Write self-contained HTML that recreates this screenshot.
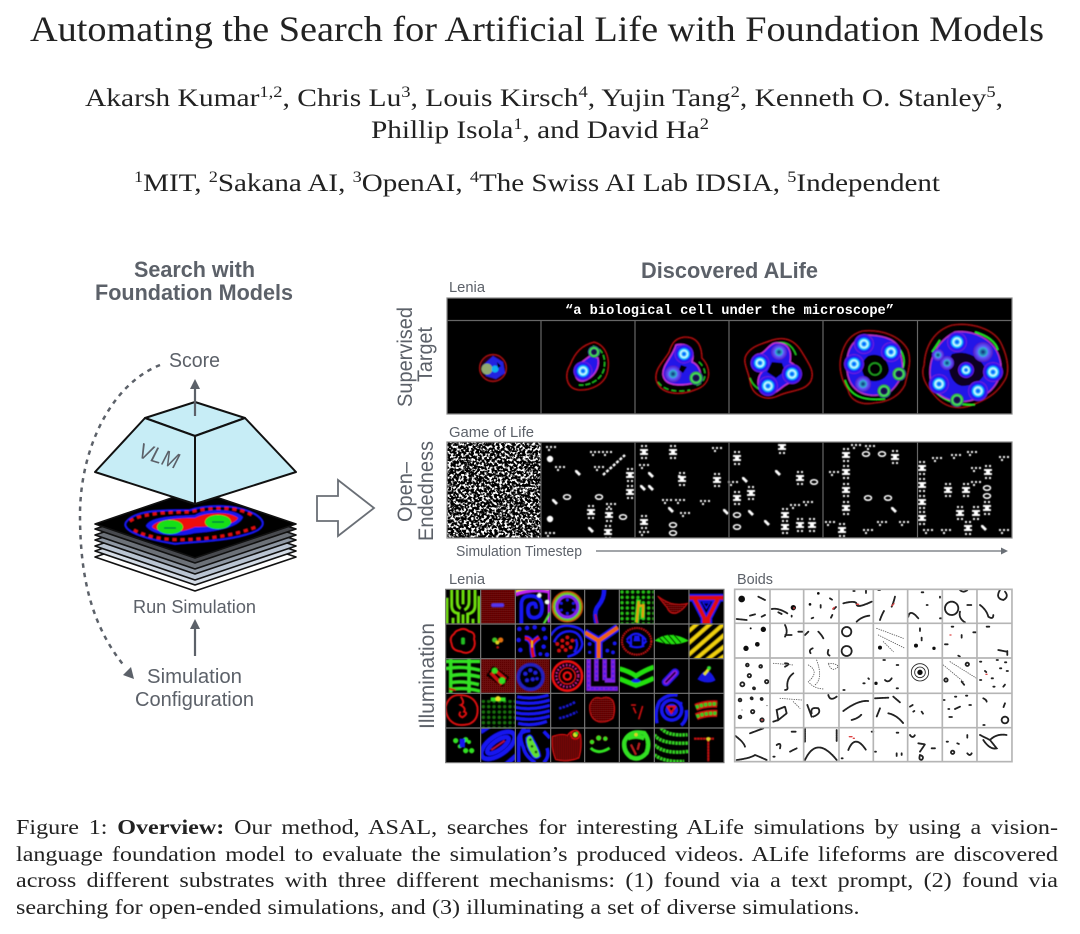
<!DOCTYPE html>
<html><head><meta charset="utf-8"><style>
html,body{margin:0;padding:0;background:#fff;width:1080px;height:934px;overflow:hidden}
#c{position:absolute;left:16px;top:815px;width:890.6px;font:20.6px/26.6px "Liberation Serif",serif;color:#222;transform:scaleX(1.17);transform-origin:0 0}
#c div{text-align:justify;text-align-last:justify;white-space:nowrap}
#c div:last-child{width:721px}
svg text{font-family:"Liberation Sans",sans-serif}
.s{font-family:"Liberation Serif",serif!important;fill:#222}
.l{fill:#5c6169}
.bt{font-weight:bold;font-size:22px;fill:#5c6169}
.w{fill:#fff}
.b path,.b circle,.b ellipse{fill:none;stroke:#222;stroke-width:5.5;stroke-linecap:round;stroke-dasharray:5 2}
.b .f{fill:#111;stroke:none}
.b .t{stroke-width:2.5;stroke-dasharray:2 5;stroke:#555}
.b .r{stroke:#d44;stroke-dasharray:none;stroke-width:4}
</style></head><body>
<svg width="1080" height="934" viewBox="0 0 1080 934" style="position:absolute;left:0;top:0">
<defs>
<filter id="bl" x="-5%" y="-5%" width="110%" height="110%"><feGaussianBlur stdDeviation="0.55"/></filter>
<filter id="bl2" x="-5%" y="-5%" width="110%" height="110%"><feGaussianBlur stdDeviation="1.5"/></filter>
<filter id="noise" x="0" y="0" width="100%" height="100%"><feTurbulence type="fractalNoise" baseFrequency="0.39" numOctaves="2" seed="7"/><feColorMatrix values="0 0 0 0 1 0 0 0 0 1 0 0 0 0 1 7 0 0 0 -3.35"/></filter>
<pattern id="pr" width="6" height="6" patternUnits="userSpaceOnUse"><rect width="6" height="6" fill="#3c0303"/><circle cx="3" cy="3" r="2" fill="#b01010"/></pattern>
<pattern id="pg" width="16" height="16" patternUnits="userSpaceOnUse"><circle cx="8" cy="8" r="5.5" fill="#26c016"/></pattern>
<radialGradient id="n"><stop offset="0" stop-color="#1030ff"/><stop offset=".2" stop-color="#10a8ff"/><stop offset=".36" stop-color="#eaffff"/><stop offset=".5" stop-color="#20d8ff"/><stop offset=".7" stop-color="#1414f8"/><stop offset=".9" stop-color="#4a18e8"/><stop offset="1" stop-color="#8020d0"/></radialGradient>
<radialGradient id="m"><stop offset="0" stop-color="#102070"/><stop offset=".4" stop-color="#30b0d0"/><stop offset=".55" stop-color="#6060ff"/><stop offset="1" stop-color="#5018c8"/></radialGradient>
<radialGradient id="g"><stop offset="0" stop-color="#100830"/><stop offset=".45" stop-color="#201060"/><stop offset=".62" stop-color="#50f060"/><stop offset=".8" stop-color="#30c040"/><stop offset="1" stop-color="#3010a0"/></radialGradient>
<g id="v"><path d="M-3-7h2v2h-2zM1-7h2v2h-2zM-4-3h8v2h-8zM-2-1h4v2h-4zM-4 1h8v2h-8zM-3 5h2v2h-2zM1 5h2v2h-2z" fill="#fff"/></g>
<g id="o"><ellipse rx="3.5" ry="2.2" fill="none" stroke="#fff" stroke-width="1.5"/></g>
<g id="d"><path d="M-5-1h2v2h-2zM-1-1h2v2h-2zM3-1h2v2h-2zM-3 2h2v2h-2z" fill="#fff"/></g>
<g id="q"><path d="M-3-3l2 0 2 2 2 2-2 2-2-2-2-2z" fill="#fff"/></g>
</defs>

<!-- Header -->
<text class="s" x="30" y="41" font-size="36" textLength="1014" lengthAdjust="spacingAndGlyphs">Automating the Search for Artificial Life with Foundation Models</text>
<text class="s" x="85" y="106" font-size="25.5" textLength="918" lengthAdjust="spacingAndGlyphs">Akarsh Kumar<tspan font-size="16" dy="-9">1,2</tspan><tspan dy="9">, Chris Lu</tspan><tspan font-size="16" dy="-9">3</tspan><tspan dy="9">, Louis Kirsch</tspan><tspan font-size="16" dy="-9">4</tspan><tspan dy="9">, Yujin Tang</tspan><tspan font-size="16" dy="-9">2</tspan><tspan dy="9">, Kenneth O. Stanley</tspan><tspan font-size="16" dy="-9">5</tspan><tspan dy="9">,</tspan></text>
<text class="s" x="371" y="138" font-size="25.5" textLength="338" lengthAdjust="spacingAndGlyphs">Phillip Isola<tspan font-size="16" dy="-9">1</tspan><tspan dy="9">, and David Ha</tspan><tspan font-size="16" dy="-9">2</tspan></text>
<text class="s" x="134" y="191" font-size="25.5" textLength="806" lengthAdjust="spacingAndGlyphs"><tspan font-size="16" dy="-9">1</tspan><tspan dy="9">MIT, </tspan><tspan font-size="16" dy="-9">2</tspan><tspan dy="9">Sakana AI, </tspan><tspan font-size="16" dy="-9">3</tspan><tspan dy="9">OpenAI, </tspan><tspan font-size="16" dy="-9">4</tspan><tspan dy="9">The Swiss AI Lab IDSIA, </tspan><tspan font-size="16" dy="-9">5</tspan><tspan dy="9">Independent</tspan></text>

<!-- Left diagram -->
<text class="bt" x="134" y="277" textLength="121" lengthAdjust="spacingAndGlyphs">Search with</text>
<text class="bt" x="95" y="300" textLength="198" lengthAdjust="spacingAndGlyphs">Foundation Models</text>
<text class="l" x="169" y="367" font-size="20" textLength="51" lengthAdjust="spacingAndGlyphs">Score</text>
<text class="l" x="133" y="613" font-size="18" textLength="123" lengthAdjust="spacingAndGlyphs">Run Simulation</text>
<text class="l" x="147" y="683" font-size="20" textLength="95" lengthAdjust="spacingAndGlyphs">Simulation</text>
<text class="l" x="135" y="706" font-size="20" textLength="119" lengthAdjust="spacingAndGlyphs">Configuration</text>

<path d="M160 365C110 385 80 450 80 515C80 585 95 630 125 667" fill="none" stroke="#5c6169" stroke-width="2.5" stroke-dasharray="4.5 5"/>
<path d="M134 679L123 675L131 667Z" fill="#5c6169"/>
<path d="M195 656V628" stroke="#5c6169" stroke-width="2.2"/><path d="M195 619L190 629H200Z" fill="#5c6169"/>

<!-- stack -->
<g stroke="#111" stroke-width="1.6" stroke-linejoin="round">
<path d="M195 523L296 557L195 591L95 557Z" fill="#fff"/>
<path d="M195 517L296 551L195 585L95 551Z" fill="#d4dce6"/>
<path d="M195 512L296 546L195 580L95 546Z" fill="#b9c4d2"/>
<path d="M195 506L296 540L195 574L95 540Z" fill="#8f98a4"/>
<path d="M195 501L296 535L195 569L95 535Z" fill="#6c7178"/>
<path d="M195 495L296 529L195 563L95 529Z" fill="#47494e"/>
<path d="M195 490L296 524L195 558L95 524Z" fill="#000"/>
</g>
<g filter="url(#bl)">
<path d="M126 522C135 510 160 510 190 510C205 505 235 503 255 514C268 522 265 530 245 535C225 541 195 542 175 544C150 540 120 532 126 522Z" fill="#000" stroke="#1414ee" stroke-width="2"/>
<path d="M130 521C140 514 165 512 190 512C210 507 240 506 253 516" fill="none" stroke="#e01010" stroke-width="3" stroke-dasharray="4 4"/>
<path d="M134 530C150 539 175 541 195 539C220 538 245 532 258 526" fill="none" stroke="#e01010" stroke-width="3" stroke-dasharray="4 4"/>
<path d="M146 526C150 515 185 516 195 515C205 508 235 508 243 517C240 527 215 532 195 533C175 538 152 535 146 526Z" fill="#1414ee"/>
<path d="M152 527C155 519 180 518 195 518C205 512 230 511 238 518C235 525 215 527 195 527C180 534 158 533 152 527Z" fill="#ee1010"/>
<ellipse cx="170" cy="527" rx="13" ry="7" fill="#12e012"/><ellipse cx="218" cy="522" rx="13" ry="7" fill="#12e012"/>
<path d="M164 528h12M212 522h12" stroke="#064" stroke-width="1.3"/>
</g>
<!-- pyramid -->
<g stroke="#111" stroke-width="2" stroke-linejoin="round" fill="#c7edf6">
<path d="M145 418L195 402L245 418L195 436Z"/>
<path d="M145 418L195 436V504L95 472Z"/>
<path d="M245 418L195 436V504L296 472Z"/>
</g>
<path d="M195 416V388" stroke="#5c6169" stroke-width="2.2"/><path d="M195 379L190 389H200Z" fill="#5c6169"/>
<text class="l" font-size="22" font-style="italic" transform="translate(137 457) rotate(17)" textLength="41" lengthAdjust="spacingAndGlyphs">VLM</text>
<path d="M317 496H338V480L374 508L338 536V521H317Z" fill="#fff" stroke="#6a6f76" stroke-width="1.8"/>

<!-- Right titles -->
<text class="bt" x="641" y="278" textLength="177" lengthAdjust="spacingAndGlyphs">Discovered ALife</text>
<text class="l" x="449" y="292" font-size="15" textLength="36" lengthAdjust="spacingAndGlyphs">Lenia</text>
<text class="l" x="449" y="437" font-size="15" textLength="85" lengthAdjust="spacingAndGlyphs">Game of Life</text>
<text class="l" x="456" y="556" font-size="15" textLength="126" lengthAdjust="spacingAndGlyphs">Simulation Timestep</text>
<text class="l" x="449" y="584" font-size="15" textLength="36" lengthAdjust="spacingAndGlyphs">Lenia</text>
<text class="l" x="737" y="584" font-size="15" textLength="36" lengthAdjust="spacingAndGlyphs">Boids</text>
<path d="M596 551H1003" stroke="#6a6f76" stroke-width="1.3"/><path d="M1008 551L1001 547.5V554.5Z" fill="#6a6f76"/>
<g font-size="21" class="l">
<text transform="translate(412 407) rotate(-90)" textLength="100" lengthAdjust="spacingAndGlyphs">Supervised</text>
<text transform="translate(432 382) rotate(-90)" textLength="55" lengthAdjust="spacingAndGlyphs">Target</text>
<text transform="translate(412 522) rotate(-90)" textLength="60" lengthAdjust="spacingAndGlyphs">Open–</text>
<text transform="translate(433 541) rotate(-90)" textLength="100" lengthAdjust="spacingAndGlyphs">Endedness</text>
<text transform="translate(434 729) rotate(-90)" textLength="106" lengthAdjust="spacingAndGlyphs">Illumination</text>
</g>

<!-- Supervised panel -->
<rect x="447" y="298" width="565" height="116" fill="#000"/>
<text x="565" y="314" font-size="14" class="w" style="font-family:'Liberation Mono',monospace;font-weight:bold" textLength="329" lengthAdjust="spacingAndGlyphs">“a biological cell under the microscope”</text>
<g filter="url(#bl)">
<!-- 1 -->
<circle cx="493" cy="368" r="13.500" fill="#200010" stroke="#a01010" stroke-width="1.400"/>
<path d="M493 356L503 362L505 373L496 379L486 376L482 366Z" fill="#2020e0"/>
<circle cx="487" cy="369" r="5.500" fill="#90a870"/><circle cx="495" cy="369" r="3.500" fill="#10b0f0"/><path d="M497 362l4 4-3 2z" fill="#000"/>
<!-- 2 -->
<path d="M594 342C606 345 610 358 608 370C606 385 590 391 578 390C566 388 564 375 570 365C575 352 582 345 594 342Z" fill="#000" stroke="#a00808" stroke-width="1.500"/>
<path d="M593 346C603 349 606 358 604 369C601 381 588 386 579 385" fill="none" stroke="#20c020" stroke-width="1.300" stroke-dasharray="5 2"/>
<path d="M590 356L598 358C600 368 594 378 583 381C574 382 574 370 578 365Z" fill="#2414e8" stroke="#c030d0" stroke-width="1.500"/>
<circle cx="583" cy="371" r="9.500" fill="url(#n)"/><circle cx="594" cy="352" r="6" fill="url(#g)"/>
<!-- 3 -->
<path d="M684 337C700 336 702 350 702 358C712 368 712 385 695 390C680 396 660 395 656 380C654 368 665 360 669 352C672 342 676 338 684 337Z" fill="#000" stroke="#a00808" stroke-width="1.500"/>
<path d="M699 362C708 370 707 383 695 386M658 382C665 392 680 392 690 390" fill="none" stroke="#20c020" stroke-width="1.200" stroke-dasharray="5 3"/>
<path d="M676 345C690 342 695 352 692 362C702 366 703 380 695 383C685 385 665 388 663 375C662 365 672 358 676 345Z" fill="#2414e8" stroke="#c030d0" stroke-width="1.500"/>
<circle cx="684" cy="354" r="9.500" fill="url(#n)"/><circle cx="673" cy="374" r="8.500" fill="url(#m)"/><circle cx="696" cy="378" r="7" fill="url(#g)"/>
<path d="M681 365l6 2-4 6-4-3z" fill="#000"/>
<!-- 4 -->
<path d="M772 340C785 336 795 340 802 352C810 365 815 372 811 381C805 392 790 390 778 396C765 402 752 395 750 382C748 370 742 362 746 355C752 345 762 344 772 340Z" fill="#000" stroke="#a00808" stroke-width="1.500"/>
<path d="M772 344C785 340 792 344 796 355M750 378C755 392 768 392 775 392" fill="none" stroke="#20c020" stroke-width="1.400"/>
<path d="M775 343C788 342 792 350 790 362C802 368 802 382 792 382C782 384 778 395 768 393C756 392 756 378 762 372C750 370 750 354 760 354C766 352 768 345 775 343Z" fill="#2414e8" stroke="#c030d0" stroke-width="1.500"/>
<path d="M772 362l10 1 3 8-9 7-9-6z" fill="#000"/>
<circle cx="760" cy="363" r="9.500" fill="url(#n)"/><circle cx="779" cy="352" r="8" fill="url(#m)"/><circle cx="792" cy="374" r="10" fill="url(#n)"/><circle cx="768" cy="386" r="10" fill="url(#n)"/>
<!-- 5 -->
<path d="M862 331C880 329 900 335 908 350C912 362 908 372 905 385C900 395 890 402 875 403C860 406 850 400 848 390C840 378 838 365 842 352C846 340 852 334 862 331Z" fill="#000" stroke="#900808" stroke-width="1.600"/>
<path d="M845 380C850 396 862 401 885 399M895 345C905 352 905 362 903 368" fill="none" stroke="#20e020" stroke-width="1.500"/>
<path d="M864 335C880 335 898 338 900 352C904 366 905 378 890 392C875 398 860 396 852 385C845 375 845 355 852 345C856 340 860 336 864 335Z" fill="#2414e8" stroke="#b030c0" stroke-width="1.500"/>
<path d="M868 356C878 352 888 358 889 370C888 378 878 384 868 380C860 374 860 362 868 356Z" fill="#000"/>
<circle cx="864" cy="344" r="10" fill="url(#n)"/><circle cx="891" cy="352" r="10" fill="url(#n)"/><circle cx="854" cy="364" r="10" fill="url(#n)"/><circle cx="899" cy="374" r="7" fill="url(#g)"/><circle cx="863" cy="384" r="8" fill="url(#m)"/><circle cx="884" cy="391" r="7" fill="url(#g)"/><circle cx="875" cy="369" r="6" fill="none" stroke="#20a020" stroke-width="1.500"/>
<!-- 6 -->
<path d="M952 325C970 322 995 328 1002 345C1008 358 1010 372 1005 380C998 392 990 398 975 404C960 411 945 408 935 396C925 385 920 375 924 365C925 345 935 330 952 325Z" fill="#000" stroke="#900808" stroke-width="1.600"/>
<path d="M932 352L940 340M975 332C985 335 995 340 998 350M930 385C940 400 955 405 975 405" fill="none" stroke="#20e020" stroke-width="1.800"/>
<path d="M955 332C972 330 995 338 1000 360C1004 375 995 392 978 398C960 406 942 400 933 388C926 372 930 345 955 332Z" fill="#2414e8" stroke="#b030c0" stroke-width="1.500"/>
<path d="M952 354C965 350 978 356 984 366C988 378 975 386 962 386C950 384 945 365 952 354Z" fill="#0a0420"/>
<circle cx="957" cy="342" r="10" fill="url(#n)"/><circle cx="983" cy="352" r="10" fill="url(#m)"/><circle cx="993" cy="372" r="10" fill="url(#n)"/><circle cx="978" cy="391" r="10" fill="url(#n)"/><circle cx="957" cy="400" r="7" fill="url(#g)"/><circle cx="939" cy="384" r="10" fill="url(#n)"/><circle cx="947" cy="363" r="7" fill="url(#m)"/><circle cx="938" cy="355" r="6" fill="url(#m)"/><circle cx="966" cy="370" r="8" fill="url(#n)"/>
</g>
<g fill="none" stroke="#666" stroke-width="1.200"><rect x="447" y="298" width="565" height="116" stroke="#888"/><path d="M447 320.500H1012M541 320V414M635 320V414M729 320V414M823 320V414M917.500 320V414"/></g>

<!-- Game of life -->
<rect x="447" y="442" width="565" height="96" fill="#000"/>
<rect x="447" y="442" width="94" height="96" filter="url(#noise)"/>
<g filter="url(#bl)">
<circle cx="550" cy="459" r="3.200" class="w"/><circle cx="550" cy="519" r="3.200" class="w"/>
<path d="M603 475L625 455" stroke="#fff" stroke-width="2.500" stroke-dasharray="3 1.500"/>
<use href="#v" x="591" y="512"/><use href="#v" x="609" y="515"/><use href="#o" x="623" y="517"/><use href="#d" x="599" y="467"/><use href="#d" x="595" y="452"/><use href="#d" x="607" y="452"/><use href="#o" x="567" y="497"/><use href="#q" x="555" y="502"/><use href="#o" x="599" y="497"/><use href="#d" x="611" y="504"/><use href="#v" x="630" y="475"/><use href="#v" x="630" y="492"/><use href="#q" x="591" y="530"/><use href="#v" x="608" y="532"/><use href="#d" x="550" y="533"/><use href="#d" x="551" y="447"/><use href="#d" x="560" y="467"/><use href="#q" x="578" y="473"/>
<use href="#v" x="644" y="452"/><use href="#d" x="644" y="465"/><use href="#v" x="673" y="452"/><use href="#d" x="717" y="448"/><use href="#q" x="681" y="478"/><use href="#q" x="651" y="475"/><use href="#v" x="717" y="480"/><use href="#q" x="643" y="488"/><use href="#q" x="651" y="488"/><use href="#d" x="667" y="500"/><use href="#d" x="680" y="500"/><use href="#d" x="685" y="513"/><use href="#o" x="673" y="525"/><use href="#o" x="673" y="533"/><use href="#v" x="644" y="522"/><use href="#d" x="644" y="532"/><use href="#d" x="705" y="501"/><use href="#q" x="726" y="512"/><use href="#q" x="671" y="510"/><use href="#v" x="682" y="479"/>
<use href="#v" x="737" y="458"/><use href="#d" x="733" y="482"/><use href="#v" x="737" y="498"/><use href="#v" x="751" y="493"/><use href="#o" x="737" y="515"/><use href="#o" x="737" y="527"/><use href="#q" x="751" y="513"/><use href="#v" x="782" y="447"/><use href="#q" x="778" y="473"/><use href="#v" x="800" y="478"/><use href="#o" x="814" y="482"/><use href="#v" x="785" y="515"/><use href="#v" x="785" y="527"/><use href="#v" x="800" y="525"/><use href="#v" x="812" y="525"/><use href="#d" x="808" y="502"/><use href="#q" x="767" y="523"/><use href="#q" x="745" y="480"/><use href="#d" x="795" y="505"/>
<use href="#v" x="846" y="455"/><use href="#v" x="846" y="472"/><use href="#v" x="846" y="490"/><use href="#v" x="846" y="508"/><use href="#d" x="856" y="445"/><use href="#o" x="866" y="454"/><use href="#o" x="882" y="454"/><use href="#v" x="895" y="457"/><use href="#d" x="834" y="472"/><use href="#o" x="868" y="498"/><use href="#o" x="888" y="498"/><use href="#q" x="894" y="510"/><use href="#v" x="842" y="530"/><use href="#d" x="830" y="522"/><use href="#d" x="882" y="522"/><use href="#d" x="904" y="522"/><use href="#d" x="868" y="530"/><use href="#d" x="870" y="446"/>
<use href="#v" x="922" y="468"/><use href="#v" x="922" y="485"/><use href="#v" x="922" y="502"/><use href="#v" x="922" y="518"/><use href="#v" x="988" y="472"/><use href="#o" x="987" y="488"/><use href="#o" x="987" y="496"/><use href="#v" x="987" y="508"/><use href="#v" x="948" y="490"/><use href="#v" x="966" y="490"/><use href="#d" x="956" y="455"/><use href="#d" x="972" y="452"/><use href="#d" x="1004" y="457"/><use href="#d" x="976" y="468"/><use href="#d" x="976" y="482"/><use href="#v" x="960" y="513"/><use href="#v" x="976" y="513"/><use href="#v" x="968" y="528"/><use href="#q" x="984" y="528"/><use href="#d" x="928" y="530"/><use href="#d" x="946" y="530"/><use href="#d" x="1004" y="530"/><use href="#d" x="937" y="458"/>
</g>
<g fill="none" stroke="#666" stroke-width="1.200"><rect x="447" y="442" width="565" height="96" stroke="#888"/><path d="M541 442V538M635 442V538M729 442V538M823 442V538M917.500 442V538"/></g>

<!-- Lenia grid -->
<g transform="translate(440 585) scale(.3333)">
<rect x="17" y="13" width="835" height="520" fill="#000"/>
<g filter="url(#bl2)">
<!-- Row 1 -->
<svg x="17" y="13" width="104" height="104" viewBox="0 0 104 104"><g fill="none" stroke="#6fe010" stroke-width="9"><path d="M52 0V45M35 0V38Q35 52 45 58M70 0V38Q70 55 56 62M18 0V48Q18 70 38 72V104M88 0V48Q88 70 66 74V104M4 25V104M100 20V104M52 75V104M22 85V104M82 88V104"/></g></svg>
<svg x="122" y="13" width="104" height="104" viewBox="0 0 104 104"><rect width="104" height="104" fill="url(#pr)"/><rect x="32" y="42" width="38" height="11" rx="5" fill="#5535f0"/></svg>
<svg x="226" y="13" width="104" height="104" viewBox="0 0 104 104"><g fill="none"><path d="M0 15Q50 -5 104 6L104 100" stroke="#c020f0" stroke-width="14"/><path d="M0 6Q50 -10 100 0" stroke="#e8e020" stroke-width="7"/><path d="M85 104L104 70" stroke="#50e030" stroke-width="7"/><path d="M18 104V45Q18 18 48 20Q80 22 80 55Q80 85 55 85Q38 85 38 62Q38 42 55 42Q62 42 62 58" stroke="#1414f0" stroke-width="12"/></g><circle cx="72" cy="18" r="7" fill="#f0fff0"/><circle cx="95" cy="38" r="7" fill="#f0fff0"/></svg>
<svg x="332" y="13" width="104" height="104" viewBox="0 0 104 104"><circle cx="50" cy="52" r="45" fill="none" stroke="#d05010" stroke-width="5"/><circle cx="50" cy="52" r="39" fill="none" stroke="#70d020" stroke-width="7"/><circle cx="50" cy="52" r="31" fill="none" stroke="#8020f0" stroke-width="10"/><g fill="#1414e8"><circle cx="50" cy="32" r="5"/><circle cx="68" cy="42" r="5"/><circle cx="68" cy="62" r="5"/><circle cx="50" cy="72" r="5"/><circle cx="32" cy="62" r="5"/><circle cx="32" cy="42" r="5"/></g></svg>
<svg x="434" y="13" width="104" height="104" viewBox="0 0 104 104"><path d="M58 0Q60 25 42 48Q25 65 36 104" fill="none" stroke="#1414f0" stroke-width="14"/><path d="M32 75L38 104" stroke="#c01040" stroke-width="5"/></svg>
<svg x="538" y="13" width="104" height="104" viewBox="0 0 104 104"><rect width="104" height="104" fill="url(#pg)"/><path d="M58 30L52 100M70 45L70 90" stroke="#20d020" stroke-width="15"/><path d="M58 35L52 100M55 50L72 48L70 85" fill="none" stroke="#e8a010" stroke-width="7"/></svg>
<svg x="643" y="13" width="104" height="104" viewBox="0 0 104 104"><path d="M10 20Q30 35 50 42Q75 48 100 42Q85 65 65 72Q45 75 38 55Q25 40 10 20Z" fill="url(#pr)" stroke="#d01010" stroke-width="3"/></svg>
<svg x="747" y="13" width="104" height="104" viewBox="0 0 104 104"><g fill="none"><path d="M0 25H104M18 30L46 85V104M86 30L58 85V104" stroke="#1414f0" stroke-width="24"/><path d="M0 25H104M18 30L46 85V104M86 30L58 85V104" stroke="#e01010" stroke-width="12"/></g><path d="M38 38H66L52 62Z" fill="#1414f0"/><path d="M45 42H59L52 52Z" fill="#000"/></svg>
<!-- Row 2 -->
<svg x="17" y="117" width="104" height="104" viewBox="0 0 104 104"><path d="M40 18Q55 10 70 22Q90 25 85 45Q92 65 78 80Q62 92 45 82Q20 80 18 60Q10 40 25 30Q30 20 40 18Z" fill="none" stroke="#e01010" stroke-width="6"/><rect x="46" y="40" width="12" height="22" rx="5" fill="#20c020"/></svg>
<svg x="122" y="117" width="104" height="104" viewBox="0 0 104 104"><circle cx="42" cy="48" r="8" fill="#40c020"/><circle cx="60" cy="48" r="8" fill="#e07010"/><circle cx="50" cy="56" r="6" fill="#e0d020"/><circle cx="51" cy="70" r="4" fill="#c01010"/></svg>
<svg x="226" y="117" width="104" height="104" viewBox="0 0 104 104"><g fill="#1414f0"><circle cx="12" cy="15" r="7"/><circle cx="35" cy="12" r="7"/><circle cx="58" cy="10" r="7"/><circle cx="85" cy="15" r="7"/><circle cx="10" cy="48" r="7"/><circle cx="90" cy="42" r="7"/><circle cx="85" cy="68" r="7"/><circle cx="95" cy="92" r="7"/><circle cx="75" cy="90" r="6"/><circle cx="15" cy="78" r="7"/></g><path d="M28 42Q45 42 50 62Q50 85 55 100M72 40Q55 50 50 62" fill="none" stroke="#1414f0" stroke-width="18"/><path d="M28 42Q45 42 50 62Q50 85 55 100M72 40Q55 50 50 62" fill="none" stroke="#e01010" stroke-width="9"/><path d="M50 50V70" stroke="#f0e020" stroke-width="4"/></svg>
<svg x="332" y="117" width="104" height="104" viewBox="0 0 104 104"><g fill="none" stroke="#1414f0" stroke-width="8"><path d="M0 35Q20 0 60 6T104 40M10 55Q25 20 60 22Q90 25 95 60Q90 90 50 98M75 45Q85 65 70 85"/></g><g fill="#d01010"><circle cx="20" cy="60" r="6"/><circle cx="35" cy="50" r="6"/><circle cx="50" cy="40" r="6"/><circle cx="35" cy="68" r="6"/><circle cx="50" cy="58" r="6"/><circle cx="65" cy="50" r="6"/><circle cx="25" cy="80" r="6"/><circle cx="45" cy="78" r="6"/><circle cx="60" cy="70" r="6"/></g></svg>
<svg x="434" y="117" width="104" height="104" viewBox="0 0 104 104"><g fill="#1414f0"><circle cx="15" cy="60" r="6"/><circle cx="90" cy="58" r="6"/><circle cx="68" cy="80" r="6"/><circle cx="85" cy="85" r="6"/><circle cx="15" cy="85" r="5"/></g><path d="M0 25L42 50V104M100 10L42 50" fill="none" stroke="#1414f0" stroke-width="24"/><path d="M0 25L42 50V104M100 10L42 50" fill="none" stroke="#f06010" stroke-width="12"/></svg>
<svg x="538" y="117" width="104" height="104" viewBox="0 0 104 104"><ellipse cx="52" cy="52" rx="44" ry="40" fill="none" stroke="#c01010" stroke-width="7" stroke-dasharray="5 2"/><path d="M22 48Q50 10 80 48M35 35V62L22 50M70 35V62L82 50M30 65Q52 75 75 65" fill="none" stroke="#1414f0" stroke-width="7"/><path d="M45 35H60L63 52H42Z" fill="#1414f0"/></svg>
<svg x="643" y="117" width="104" height="104" viewBox="0 0 104 104"><path d="M0 50Q45 15 104 50Q60 72 0 50Z" fill="#20e010"/><path d="M25 35L50 62M40 30L65 60M55 28L80 56M15 42L35 62" stroke="#000" stroke-width="3"/></svg>
<svg x="747" y="117" width="104" height="104" viewBox="0 0 104 104"><rect width="104" height="104" fill="#000"/><g fill="none" stroke="#f0d010" stroke-width="11"><path d="M-10 30L35 -10M-10 65L75 -10M-10 100L110 -5M15 110L115 25M50 110L115 60M85 110L115 90"/></g></svg>
<!-- Row 3 -->
<svg x="17" y="221" width="104" height="104" viewBox="0 0 104 104"><g fill="none" stroke="#30e020" stroke-width="11"><path d="M0 8H104M0 30Q50 20 104 35M15 52Q50 42 104 55M15 72Q50 65 100 78M15 92Q60 85 104 98M15 0V104M70 0V104"/></g><path d="M10 90L30 95" stroke="#d01010" stroke-width="6"/></svg>
<svg x="122" y="221" width="104" height="104" viewBox="0 0 104 104"><rect width="104" height="104" fill="url(#pr)"/><rect x="22" y="35" width="60" height="36" fill="#000" transform="rotate(35 52 52)"/><path d="M38 30L75 62M30 42L64 78" stroke="#d01010" stroke-width="10"/><circle cx="42" cy="36" r="9" fill="#30e020"/><circle cx="64" cy="66" r="10" fill="#30e020"/></svg>
<svg x="226" y="221" width="104" height="104" viewBox="0 0 104 104"><rect width="104" height="104" fill="url(#pr)"/><circle cx="46" cy="55" r="37" fill="#000" stroke="#2020c0" stroke-width="10"/><g fill="#2020d8"><circle cx="30" cy="45" r="6"/><circle cx="45" cy="35" r="6"/><circle cx="60" cy="42" r="6"/><circle cx="35" cy="65" r="6"/><circle cx="52" cy="62" r="6"/><circle cx="65" cy="60" r="5"/></g></svg>
<svg x="332" y="221" width="104" height="104" viewBox="0 0 104 104"><circle cx="50" cy="52" r="44" fill="none" stroke="#f01010" stroke-width="8"/><circle cx="50" cy="52" r="33" fill="none" stroke="#e020a0" stroke-width="7" stroke-dasharray="5 5"/><circle cx="50" cy="52" r="24" fill="none" stroke="#e01010" stroke-width="5"/><circle cx="50" cy="52" r="11" fill="none" stroke="#f01010" stroke-width="7"/></svg>
<svg x="434" y="221" width="104" height="104" viewBox="0 0 104 104"><g fill="none" stroke="#8020e0" stroke-width="14"><path d="M12 0V90H100M35 0V68M60 0V65M85 0V65H60"/></g><g fill="none" stroke="#2020f0" stroke-width="4" stroke-dasharray="6 8"><path d="M12 0V90H100M35 0V68M60 0V65M85 0V65"/></g></svg>
<svg x="538" y="221" width="104" height="104" viewBox="0 0 104 104"><g fill="none" stroke="#20e010" stroke-width="15"><path d="M0 30Q30 38 50 52Q75 35 104 25M0 60Q30 72 50 80Q75 72 104 58"/></g><ellipse cx="50" cy="66" rx="14" ry="6" fill="#1414f0"/></svg>
<svg x="643" y="221" width="104" height="104" viewBox="0 0 104 104"><path d="M35 70L62 42" stroke="#2414e8" stroke-width="26" stroke-linecap="round"/><path d="M35 70L62 42" stroke="#9020e0" stroke-width="15" stroke-linecap="round"/><path d="M35 70L62 42" stroke="#0a0020" stroke-width="5" stroke-linecap="round"/></svg>
<svg x="747" y="221" width="104" height="104" viewBox="0 0 104 104"><path d="M25 62Q55 10 80 65Q55 80 25 62Z" fill="#1414e0"/><path d="M45 48L60 30" stroke="#e8e020" stroke-width="9"/><circle cx="60" cy="28" r="6" fill="#30e030"/></svg>
<!-- Row 4 -->
<svg x="17" y="325" width="104" height="104" viewBox="0 0 104 104"><path d="M0 40Q10 5 40 5Q85 5 95 40Q100 80 70 92Q35 100 18 85Q0 70 0 40ZM45 10Q60 30 45 35Q62 45 55 55Q70 60 50 72Q35 65 45 55" fill="none" stroke="#e01010" stroke-width="6"/></svg>
<svg x="122" y="325" width="104" height="104" viewBox="0 0 104 104"><rect y="20" width="104" height="84" fill="url(#pg)" opacity=".6"/><path d="M30 18L75 18" stroke="#30e020" stroke-width="12"/><circle cx="52" cy="16" r="8" fill="#f0e020"/></svg>
<svg x="226" y="325" width="104" height="104" viewBox="0 0 104 104"><g fill="none" stroke="#1414f0" stroke-width="10"><path d="M5 10Q50 20 100 5M0 26Q50 36 104 20M0 42Q50 52 104 36M0 58Q50 68 104 52M0 74Q50 84 104 68M8 90Q50 100 95 84"/></g></svg>
<svg x="332" y="325" width="104" height="104" viewBox="0 0 104 104"><path d="M25 45Q50 40 75 25M25 75Q50 70 80 55" stroke="#1818d8" stroke-width="8" stroke-dasharray="8 3" fill="none"/></svg>
<svg x="434" y="325" width="104" height="104" viewBox="0 0 104 104"><path d="M15 35Q25 5 50 15Q70 5 85 22Q95 45 85 75Q65 90 40 85Q12 75 15 35Z" fill="url(#pr)" stroke="#e01010" stroke-width="3"/></svg>
<svg x="538" y="325" width="104" height="104" viewBox="0 0 104 104"><path d="M35 35H50M42 42L50 60M70 38L58 78" stroke="#d01010" stroke-width="5" fill="none"/></svg>
<svg x="643" y="325" width="104" height="104" viewBox="0 0 104 104"><g fill="none" stroke="#1414f0" stroke-width="11"><path d="M8 90Q0 55 15 25Q40 0 70 5"/><circle cx="52" cy="50" r="30"/><circle cx="52" cy="50" r="14"/></g><path d="M40 40H62L51 58Z" fill="none" stroke="#e01010" stroke-width="6"/><circle cx="80" cy="30" r="5" fill="#1414f0"/><path d="M96 50Q100 80 80 96" fill="none" stroke="#1414f0" stroke-width="11"/></svg>
<svg x="747" y="325" width="104" height="104" viewBox="0 0 104 104"><path d="M20 42Q50 30 85 32M22 70Q50 58 85 60" stroke="#d01010" stroke-width="22" fill="none"/><path d="M20 42Q50 30 85 32M22 70Q50 58 85 60" stroke="#30d020" stroke-width="10" stroke-dasharray="10 3" fill="none"/></svg>
<!-- Row 5 -->
<svg x="17" y="429" width="104" height="104" viewBox="0 0 104 104"><g fill="#30e020"><circle cx="30" cy="38" r="8"/><circle cx="60" cy="35" r="8"/><circle cx="70" cy="42" r="6"/><circle cx="42" cy="55" r="6"/><circle cx="60" cy="68" r="8"/><circle cx="78" cy="68" r="8"/></g><rect x="42" y="32" width="16" height="26" fill="#1414f0"/></svg>
<svg x="122" y="429" width="104" height="104" viewBox="0 0 104 104"><rect width="104" height="104" fill="#000"/><g fill="none" stroke="#1414f0" stroke-width="13"><ellipse cx="52" cy="52" rx="58" ry="28" transform="rotate(-35 52 52)"/><ellipse cx="52" cy="52" rx="38" ry="14" transform="rotate(-35 52 52)"/><path d="M0 12L25 -5M75 110L110 80"/></g><path d="M32 66L72 38" stroke="#c01040" stroke-width="5"/></svg>
<svg x="226" y="429" width="104" height="104" viewBox="0 0 104 104"><g fill="none" stroke="#1414f0" stroke-width="11"><path d="M10 104V30Q15 8 45 8M30 0Q5 15 25 60Q30 85 60 104M85 10L104 30M85 104Q104 85 95 60"/></g><path d="M32 30Q45 10 55 35Q75 70 75 85Q60 100 48 80Q30 55 32 30Z" fill="#60e030" stroke="#1414f0" stroke-width="5"/><g fill="#0a5010"><circle cx="45" cy="35" r="4"/><circle cx="50" cy="55" r="4"/><circle cx="62" cy="72" r="4"/></g></svg>
<svg x="332" y="429" width="104" height="104" viewBox="0 0 104 104"><path d="M5 25Q35 15 50 22Q70 -5 90 20Q95 60 85 90Q50 104 15 95Q0 60 5 25Z" fill="url(#pr)" stroke="#e01010" stroke-width="3"/><circle cx="74" cy="20" r="13" fill="#000" stroke="#e01010" stroke-width="4"/><circle cx="74" cy="20" r="7" fill="#e0e020"/><circle cx="78" cy="16" r="4" fill="#30e030"/></svg>
<svg x="434" y="429" width="104" height="104" viewBox="0 0 104 104"><g fill="#30e020" stroke="#a01010"><circle cx="42" cy="30" r="8"/><circle cx="22" cy="42" r="7"/><circle cx="62" cy="32" r="7"/></g><path d="M18 60Q40 82 75 60" fill="none" stroke="#30e020" stroke-width="9"/></svg>
<svg x="538" y="429" width="104" height="104" viewBox="0 0 104 104"><path d="M15 40Q30 5 75 15Q95 40 82 75Q60 100 35 88Q10 70 15 40Z" fill="#000" stroke="#30e020" stroke-width="13"/><path d="M25 30Q50 20 75 30" stroke="#30e020" stroke-width="14" fill="none"/><circle cx="50" cy="20" r="5" fill="#e0d020"/><path d="M35 50L50 80M60 45L55 65" stroke="#c02020" stroke-width="5"/></svg>
<svg x="643" y="429" width="104" height="104" viewBox="0 0 104 104"><g fill="none" stroke="#30d020" stroke-width="11" stroke-dasharray="8 2"><path d="M20 0Q40 25 100 20M0 20Q20 50 104 45M0 50Q30 80 104 70M0 80Q30 104 90 100"/></g></svg>
<svg x="747" y="429" width="104" height="104" viewBox="0 0 104 104"><path d="M15 32H75M58 35V100" stroke="#c01010" stroke-width="7" stroke-dasharray="8 1" fill="none"/><circle cx="58" cy="33" r="6" fill="#e0d020"/></svg>
</g>
<g fill="none" stroke="#777" stroke-width="3.500"><rect x="17" y="13" width="835" height="520"/><path d="M122 13V533M226 13V533M332 13V533M434 13V533M538 13V533M643 13V533M747 13V533M17 117H852M17 221H852M17 325H852M17 429H852"/></g>
</g>

<!-- Boids grid -->
<g transform="translate(730 585) scale(.3333)">
<rect x="14" y="13" width="832" height="517" fill="#fff"/>
<g class="b" filter="url(#bl)">
<circle class="f" cx="35" cy="42" r="10"/><path d="M60 92L75 88M95 95L105 90M85 35L105 45M20 102L50 105"/>
<path d="M125 72Q145 68 172 85"/><circle class="f" cx="190" cy="68" r="8"/><path d="M185 92v3M145 82l10 5"/>
<circle class="f" cx="265" cy="25" r="4"/><circle class="f" cx="240" cy="58" r="4"/><path d="M272 60v8M300 40l6 4M245 100l5-2M303 98l4-8M312 72l6-6"/>
<path d="M340 55Q380 45 380 58T425 50M380 110Q395 95 418 92M370 18h4M408 16v8"/>
<path d="M495 35Q490 55 485 65M450 105Q455 90 462 78M445 15h5"/>
<path d="M535 95Q540 70 565 100M575 22h5M630 35v3M630 100h4M590 60h3"/>
<circle cx="665" cy="70" r="20"/><path d="M690 80Q685 100 705 112M690 15Q700 25 712 15M712 60h12"/>
<path d="M810 15Q795 40 820 45Q838 35 825 20M750 60Q770 75 775 95Q790 105 790 90"/>
<circle class="f" cx="62" cy="130" r="3"/><circle class="f" cx="100" cy="133" r="8"/><circle class="f" cx="48" cy="190" r="8"/><circle class="f" cx="82" cy="178" r="7"/>
<path d="M165 120Q175 140 165 155M185 150L165 150M205 140h15"/>
<path d="M225 150l10-10M265 140Q275 150 280 160M248 190Q235 195 242 205M295 195Q290 210 300 212"/>
<circle cx="350" cy="140" r="14"/><circle cx="350" cy="198" r="15"/>
<path class="t" d="M440 130L520 160M445 150L525 190M460 170L490 200"/><circle class="f" cx="450" cy="188" r="6"/>
<circle class="f" cx="558" cy="182" r="6"/><circle class="f" cx="612" cy="190" r="5"/><path d="M575 158v8M570 130v8"/>
<path d="M645 178h8M695 150v8M730 142h8M665 125h5M685 212l6 3"/>
<path d="M770 125h8M805 195l25 5M832 198v12"/>
<circle cx="52" cy="240" r="4"/><circle cx="92" cy="244" r="4"/><circle cx="58" cy="272" r="5"/><circle cx="37" cy="298" r="6"/><circle cx="110" cy="290" r="5"/><circle cx="72" cy="310" r="3"/>
<path d="M165 235Q185 235 165 245M190 265Q170 280 172 305Q175 315 165 315" /><path class="t" d="M130 235L190 240"/>
<path class="t" d="M235 240Q270 260 235 290Q250 310 280 312M260 225Q280 280 255 300M295 235Q320 235 325 245Q305 265 295 235Z"/>
<path d="M340 315h4M400 295h4M415 280l2 2"/>
<circle class="f" cx="438" cy="295" r="5"/><path d="M465 285Q475 295 485 280M500 240h5M460 225h6M500 310h4"/>
<circle cx="570" cy="262" r="26" style="stroke-width:2.500;stroke-dasharray:none"/><circle cx="570" cy="262" r="16" style="stroke-width:2.500;stroke-dasharray:none"/><circle class="f" cx="570" cy="262" r="8"/>
<path class="t" d="M640 240L700 290M660 230L740 280"/><circle cx="712" cy="238" r="5"/><circle cx="648" cy="285" r="5"/><path d="M695 290l8 10"/>
<path d="M765 258l5 4M785 280h4M800 225h4M750 285h4M820 305l5-6M830 258h4M810 250h4M790 305h4M750 230h4M825 232h4"/>
<circle cx="30" cy="345" r="4"/><circle cx="65" cy="340" r="3"/><circle cx="95" cy="342" r="3"/><circle cx="68" cy="380" r="5"/><circle cx="30" cy="396" r="4"/><circle cx="96" cy="405" r="5"/><path class="t" d="M35 375h6M110 362h3"/>
<path d="M140 375L165 365L170 385L145 405L140 375ZM130 410L145 405"/><path class="t" d="M150 340L215 345M190 350L210 370"/>
<path d="M245 385Q240 365 265 370Q275 385 250 395M232 360L245 395M295 330Q300 350 320 335"/>
<path d="M340 378Q385 345 415 348M365 405Q385 400 395 388"/>
<path d="M435 340L475 338M490 335L510 352M450 370L440 395M475 385Q500 390 520 415"/>
<path d="M540 365l8-5M575 380l4 6M550 380l3-2"/>
<path d="M675 372L690 365M658 396h8M640 345h4M675 335h4M708 332h4M718 360h5M655 372h3"/>
<path d="M760 340Q770 345 770 350M825 355L820 368M760 420h4"/><circle cx="825" cy="405" r="10"/>
<path d="M15 452Q40 470 45 485M60 445L100 430M20 525Q60 520 75 510Q100 520 110 525"/>
<path d="M140 480Q155 470 150 490M185 440h12M180 500L200 490M130 515h4"/>
<path d="M225 525Q260 450 320 525M225 430V470M320 435V470"/>
<path d="M355 495Q375 445 408 495M425 440h5M335 520h3"/>
<path d="M500 505v8M515 505v6M435 500h3M500 443h5"/>
<path d="M540 450Q548 462 555 450M565 475L585 478L570 500M570 510Q585 515 575 525Q565 525 570 510M605 490h10"/>
<circle cx="668" cy="502" r="5"/><path d="M650 470h4M682 475l5 2M712 505Q720 515 725 505M712 450v8"/>
<path d="M750 450L780 465L800 490Q780 495 760 465M780 465Q800 445 830 450"/>
<path class="r" d="M358 455h8M192 68v3M308 72l5-5M380 58h6M486 62l6-6M660 150h3M768 268h3M95 405h3M370 460h3"/>
</g>
<g fill="none" stroke="#b5b5b5" stroke-width="5"><rect x="14" y="13" width="832" height="517"/><path d="M120 13V530M221 13V530M327 13V530M430 13V530M533 13V530M637 13V530M741 13V530M14 115H846M14 219H846M14 325H846M14 428H846"/></g>
</g>
</svg>

<div id="c">
<div>Figure 1: <b>Overview:</b> Our method, ASAL, searches for interesting ALife simulations by using a vision-</div>
<div>language foundation model to evaluate the simulation’s produced videos. ALife lifeforms are discovered</div>
<div>across different substrates with three different mechanisms: (1) found via a text prompt, (2) found via</div>
<div>searching for open-ended simulations, and (3) illuminating a set of diverse simulations.</div>
</div>
</body></html>
